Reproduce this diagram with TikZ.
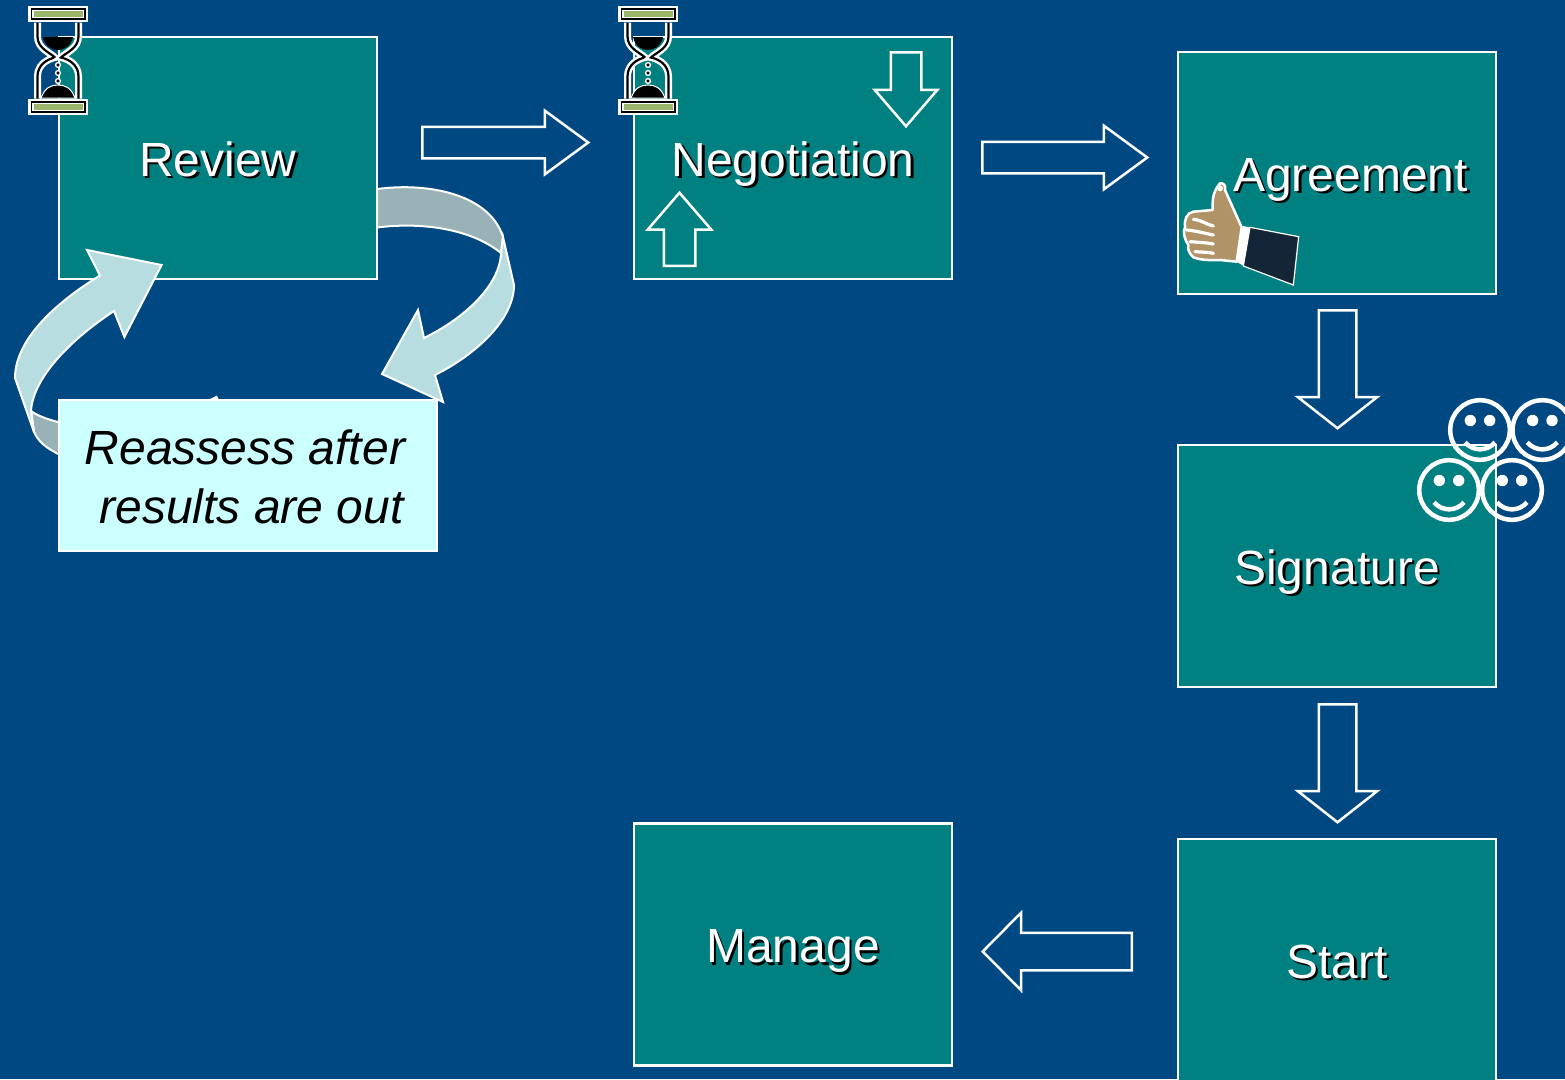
\documentclass[tikz,border=0pt]{standalone}
\usepackage{fontspec}
\setmainfont{Liberation Sans}
\usetikzlibrary{positioning,shapes.arrows}
\definecolor{bgblue}{HTML}{004882}
\definecolor{boxteal}{HTML}{008080}
\definecolor{calloutfill}{HTML}{CCFFFF}
\definecolor{ribbonlight}{HTML}{B8DDE0}
\definecolor{ribbondark}{HTML}{99B2B7}
\definecolor{barolive}{HTML}{9DB56A}
\definecolor{handtan}{HTML}{B09468}
\definecolor{sleevenavy}{HTML}{152538}
\newcommand{\shadowed}[1]{\leavevmode\rlap{\kern2.5pt\raisebox{-2.5pt}{\color{black}#1}}{\color{white}#1}}
\tikzset{
  stepbox/.style={draw=white, line width=2.8pt, fill=boxteal, minimum width=318pt, minimum height=242pt, inner sep=0pt, text height=43.5pt, text depth=7.5pt, font=\fontsize{48}{58}\selectfont},
  blockarrow/.style n args={4}{single arrow, anchor=tail, draw=white, line width=2.5pt, inner xsep=0pt, inner ysep=#2/2, outer sep=0pt, minimum height=#1, single arrow head extend=#3, single arrow tip angle=#4, single arrow head indent=0pt},
  ribbon/.style={draw=white, line width=2pt, line join=miter},
  pics/hourglass/.style={code={
    \foreach \s in {-1,1} {
      \fill[white] (-30,46.5*\s-8) rectangle (30,46.5*\s+8);
      \fill[black] (-27.5,46.5*\s-5.7) rectangle (27.5,46.5*\s+5.7);
      \fill[white] (-26.2,46.5*\s-4.4) rectangle (26.2,46.5*\s+4.4);
      \fill[barolive] (-24.5,46.5*\s-3.2) rectangle (24.5,46.5*\s+3.2);
    }
    \foreach \s in {-1,1} {
      \path[line width=7pt, draw=white] (20.5*\s,-38) -- (20.5*\s,-24) .. controls (20.5*\s,-12) and (8*\s,-8) .. (3*\s,-3) .. controls (12*\s,-1) and (20.5*\s,5) .. (20.5*\s,16) -- (20.5*\s,38);
      \path[line width=2.2pt, draw=black] (20.5*\s,-38) -- (20.5*\s,-24) .. controls (20.5*\s,-12) and (8*\s,-8) .. (3*\s,-3) .. controls (12*\s,-1) and (20.5*\s,5) .. (20.5*\s,16) -- (20.5*\s,38);
    }
    \fill[black] (-15,-23.5) -- (15,-23.5) .. controls (13,-14) and (6,-10.5) .. (0,-10.5) .. controls (-6,-10.5) and (-13,-14) .. (-15,-23.5) -- cycle;
    \filldraw[black, draw=white, line width=1pt] (-17,37.5) .. controls (-13,27) and (-7,24.5) .. (0,24.5) .. controls (7,24.5) and (13,27) .. (17,37.5) -- cycle;
    \foreach \d in {4.5,12.5,20.5} \filldraw[fill=black, draw=white, line width=1.4pt] (0,\d) circle (2.4pt);
  }},
  pics/smiley/.style={code={
    \draw[white, line width=4.5pt] (0,0) circle (29.8pt);
    \fill[white] (-9.7,-9.5) circle (5.7pt) (9.7,-9.5) circle (5.7pt);
    \draw[white, line width=4.5pt] (-15,12.3) .. controls (-7,21.7) and (7,21.7) .. (15,12.3);
  }}
}
\begin{document}
\begin{tikzpicture}[x=1pt, y=-1pt, node distance=1cm, semithick]
\useasboundingbox (0,0) rectangle (1565,1079);
\clip (0,0) rectangle (1565,1079);
\fill[bgblue] (0,0) rectangle (1565,1079);
%
\node (Rev) [stepbox] at (218,158) {\shadowed{Review}};
\node (Neg) [stepbox, right of=Rev, node distance=575pt] {\shadowed{Negotiation}};
\node (Agr) [stepbox, right of=Neg, node distance=544pt, yshift=-15pt] {\hspace*{27pt}\shadowed{Agreement}};
\node (Sig) [stepbox, below of=Agr, node distance=393pt] {\shadowed{Signature}};
\node (Sta) [stepbox, below of=Sig, node distance=394pt] {\shadowed{Start}};
\node (Man) [stepbox, left of=Sta, node distance=544pt, yshift=15.5pt] {\shadowed{Manage}};
%
\node (A1) [blockarrow={166pt}{29pt}{16pt}{72.5}] at (422.25,142.5) {};
\node (A2) [blockarrow={165pt}{29pt}{16pt}{72.5}] at (982.25,157.5) {};
\node (A3) [blockarrow={118pt}{35pt}{21pt}{103.7}, rotate=-90] at (1337.5,310.25) {};
\node (A4) [blockarrow={118pt}{35pt}{21pt}{103.7}, rotate=-90] at (1337.5,704.25) {};
\node (A5) [blockarrow={149pt}{35pt}{20pt}{90.7}, rotate=180] at (1131.75,951.5) {};
\node (A6) [blockarrow={74pt}{28pt}{16pt}{81.5}, rotate=-90] at (906,52.25) {};
\node (A7) [blockarrow={73pt}{29pt}{16pt}{81.5}, rotate=90] at (679.5,265.75) {};
%
\draw[ribbon, fill=ribbondark] (377,189) .. controls (430,182) and (490,195) .. (503,237) -- (501,253) .. controls (470,228) and (420,222) .. (377,227.5) -- cycle;
\draw[ribbon, fill=ribbonlight] (503,237) -- (514,285) .. controls (514,320) and (475,355) .. (435,375) -- (443,402) -- (382,374) -- (418,310) -- (424,338) .. controls (465,318) and (500,285) .. (501,253) -- cycle;
\draw[ribbon, fill=ribbondark] (31,411) .. controls (38,416) and (48,420) .. (70,425) -- (70,460) .. controls (50,450) and (40,445) .. (34,432) -- cycle;
\draw[ribbon, fill=ribbonlight] (87,250) -- (161.6,265) -- (124.4,337) -- (114,311) .. controls (70,340) and (33,378) .. (31,411) -- (34,432) -- (15,378) .. controls (15,340) and (55,303) .. (100,275.5) -- cycle;
\draw[ribbon, fill=ribbonlight] (206,402) -- (216.4,397) -- (219,402);
%
\node (Note) [draw=white, line width=2pt, fill=calloutfill, minimum width=378pt, minimum height=151pt, inner sep=0pt, align=center, font=\fontsize{48}{59}\selectfont\itshape] at (248,475) {\rule{0pt}{39pt}\hspace*{-6pt}Reassess after\\\hspace*{7pt}results are out};
%
\pic (H1) at (58,60.5) {hourglass};
\pic (H2) at (648,60.5) {hourglass};
%
\pic (S1) at (1480,430) {smiley};
\pic (S2) at (1542.3,430) {smiley};
\pic (S3) at (1449,490) {smiley};
\pic (S4) at (1512,490) {smiley};
%
\begin{scope}[shift={(1170,170)}, x=0.3333pt, y=-0.3333pt]
\draw[white, line width=2.5pt, fill=handtan, line join=round] (150,40) .. controls (162,38) and (168,48) .. (165,60) -- (215,172) -- (200,275) -- (150,270) .. controls (110,272) and (85,268) .. (70,262) .. controls (58,250) and (52,240) .. (55,225) .. controls (42,205) and (38,185) .. (45,172) .. controls (42,150) and (50,128) .. (70,125) -- (128,120) .. controls (128,95) and (125,70) .. (150,40) -- cycle;
\foreach \a/\b/\c/\d in {70/148/130/168, 50/180/130/195, 60/215/130/222, 75/245/130/250}
  \draw[white, line width=3.2pt, line cap=round] (\a,\b) .. controls (\a+25,\b+2) and (\c-20,\d-4) .. (\c,\d);
\fill[white] (150,55) circle (9);
\fill[white] (218,168) -- (240,172) -- (220,287) -- (200,276) -- cycle;
\draw[white, line width=1.2pt, fill=sleevenavy] (240,172) -- (386,200) -- (370,345) -- (220,288) -- cycle;
\end{scope}
\end{tikzpicture}
\end{document}
